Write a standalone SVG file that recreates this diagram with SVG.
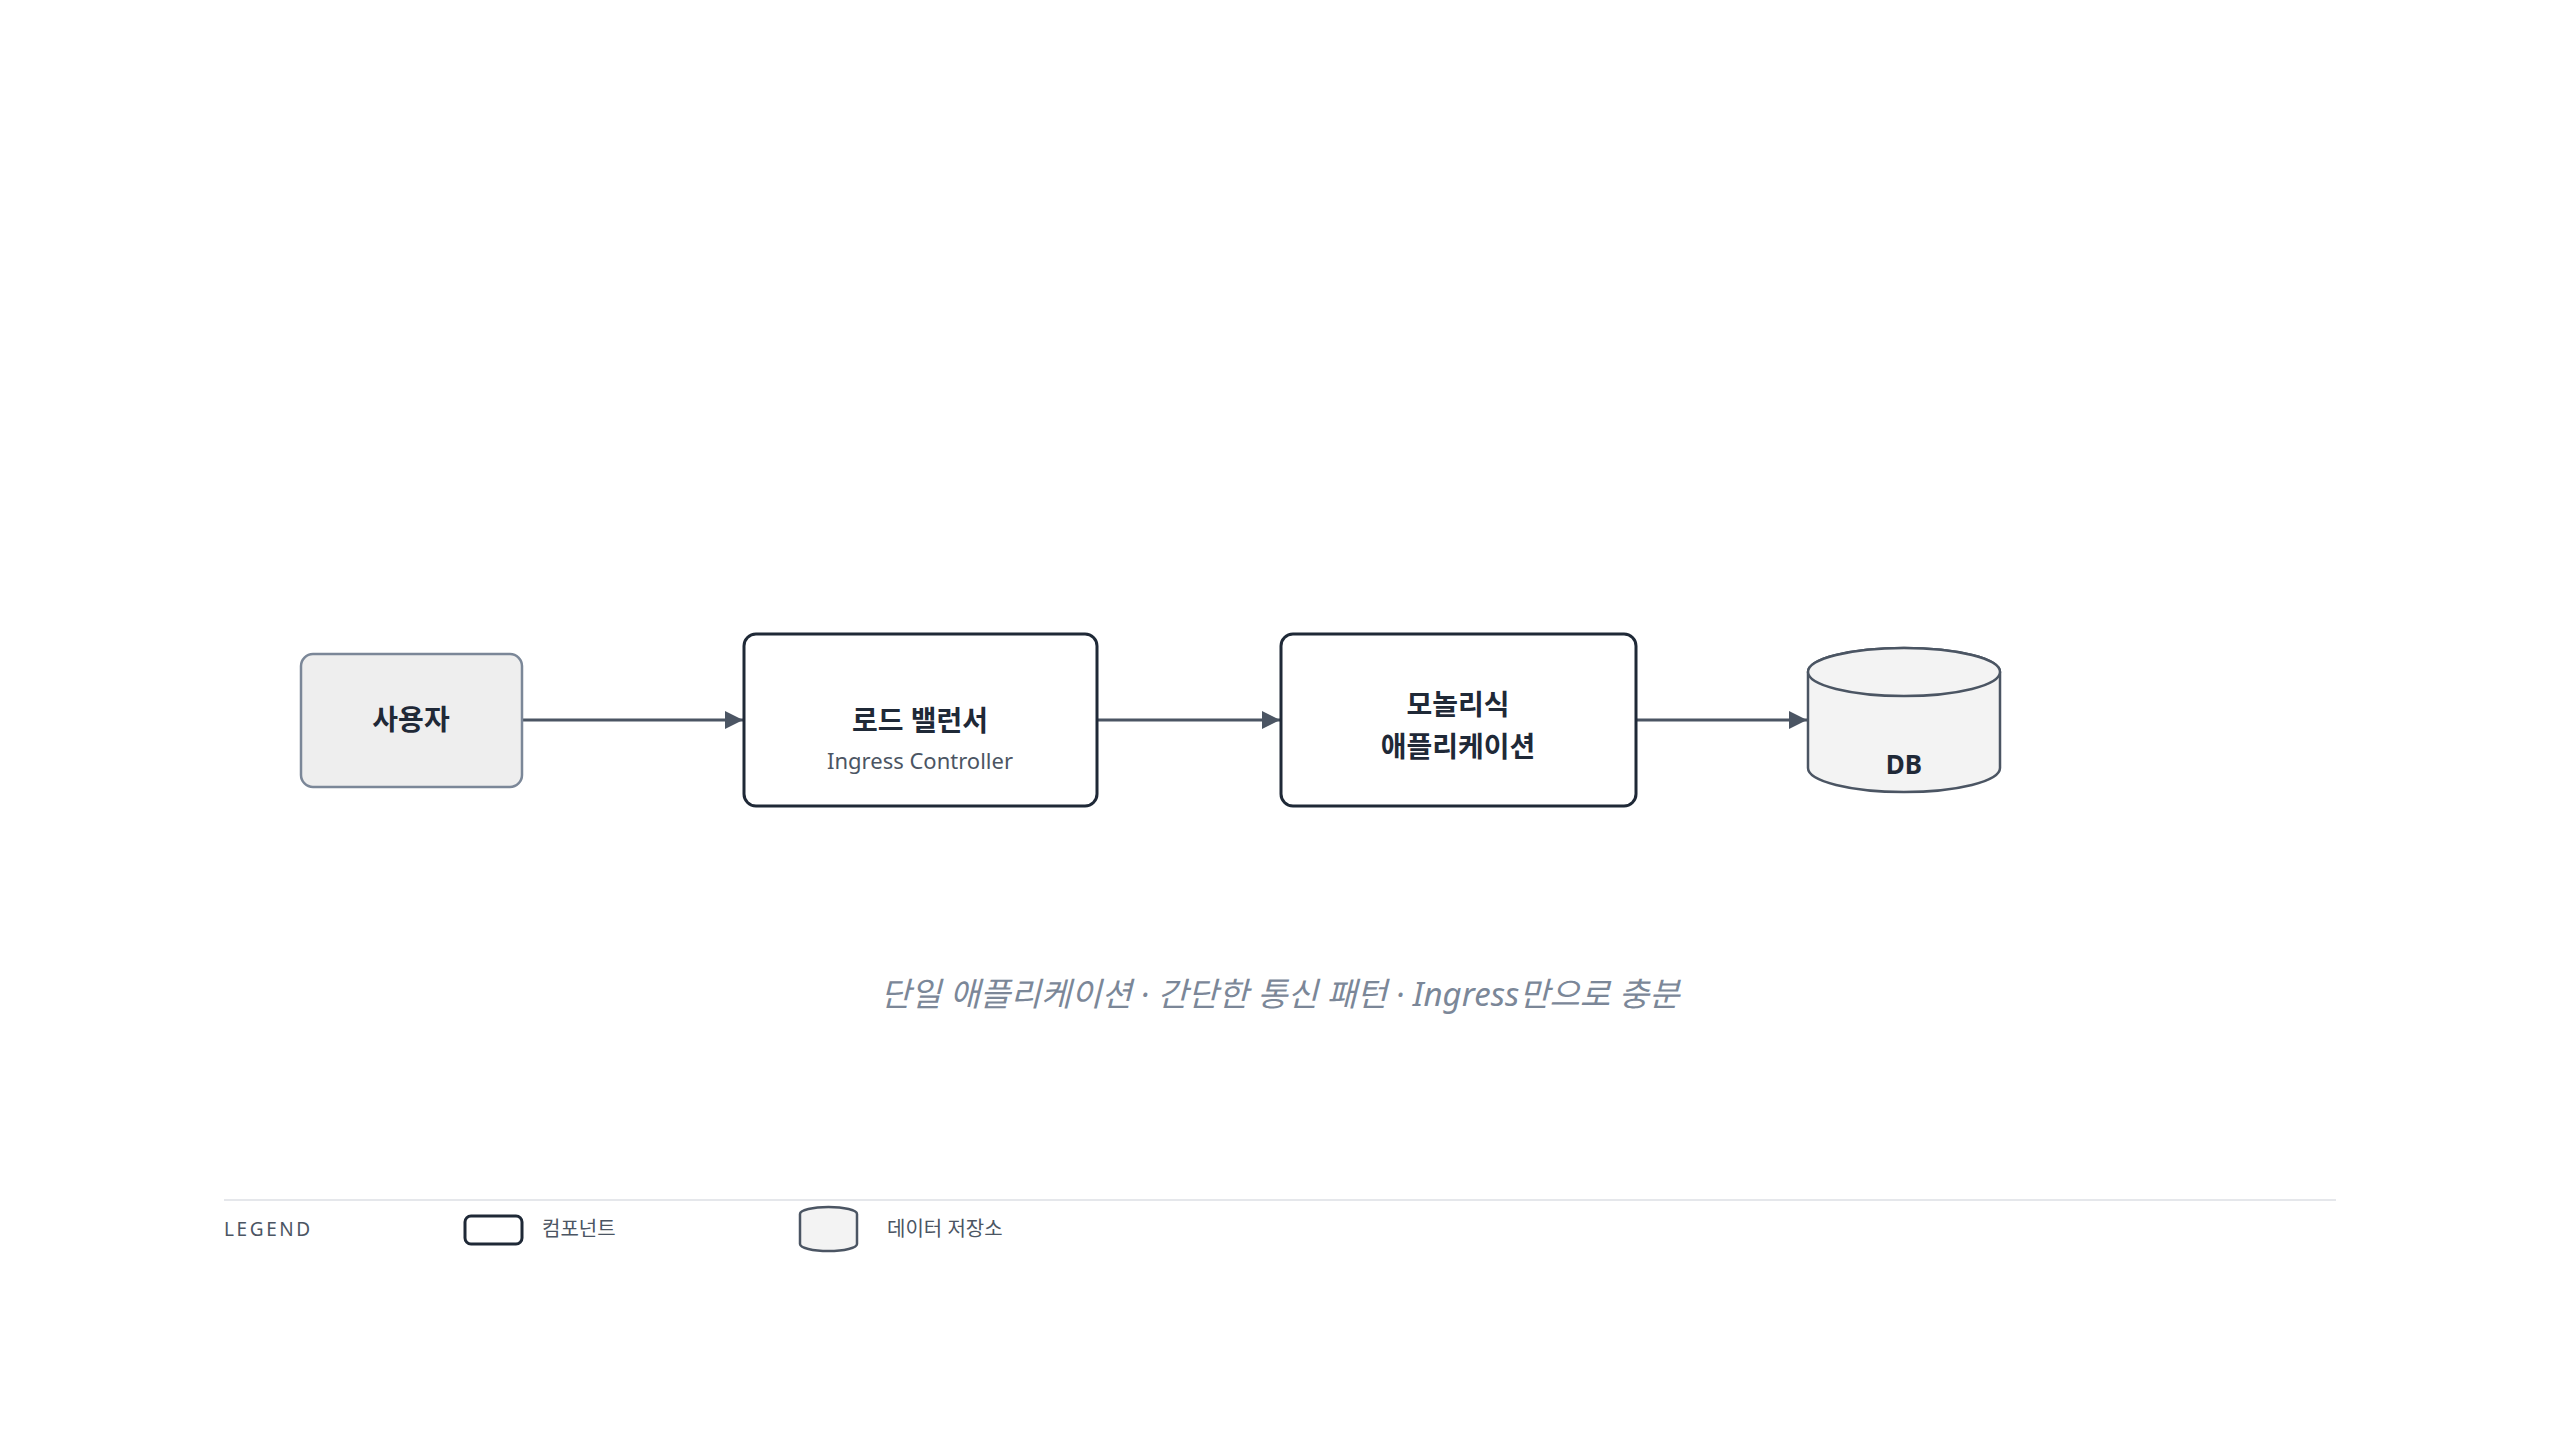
<svg xmlns="http://www.w3.org/2000/svg" width="2560" height="1440" viewBox="0 0 2560 1440">
<style>
text{font-family:"Noto Sans","Noto Sans CJK KR",sans-serif;}
.title{font-size:28px;font-weight:700;fill:#1f2937;text-anchor:middle;}
.sub{font-size:22px;fill:#4b5563;text-anchor:middle;}
.comp{fill:#ffffff;stroke:#1f2937;stroke-width:3;}
.actor{fill:#eeeeee;stroke:#7b8798;stroke-width:2.5;}
.store{fill:#f3f3f3;stroke:#4b5563;stroke-width:2.5;}
.edge{stroke:#4b5563;stroke-width:3;fill:none;marker-end:url(#arr);}
.caption{font-size:33px;font-style:italic;fill:#7b8798;text-anchor:middle;}
.leg{font-size:20px;fill:#4b5563;}
</style>
<defs>
<marker id="arr" viewBox="0 0 10 10" refX="10" refY="5" markerWidth="21" markerHeight="18" markerUnits="userSpaceOnUse" orient="auto">
<path d="M0,0 L10,5 L0,10 z" fill="#4b5563"/>
</marker>
</defs>
<rect width="2560" height="1440" fill="#ffffff"/>
<g id="connectors">
<line class="edge" x1="523" y1="720" x2="743" y2="720"/>
<line class="edge" x1="1098" y1="720" x2="1280" y2="720"/>
<line class="edge" x1="1636" y1="720" x2="1807" y2="720"/>
</g>
<g id="user">
<rect class="actor" x="301" y="654" width="221" height="133" rx="12"/>
<text class="title" x="411" y="730">사용자</text>
</g>
<g id="lb">
<rect class="comp" x="744" y="634" width="353" height="172" rx="12"/>
<text class="title" x="920" y="731">로드 밸런서</text>
<text class="sub" x="920" y="769">Ingress Controller</text>
</g>
<g id="app">
<rect class="comp" x="1281" y="634" width="355" height="172" rx="12"/>
<text class="title" x="1458" y="715">모놀리식</text>
<text class="title" x="1458" y="757">애플리케이션</text>
</g>
<g id="db">
<path class="store" d="M1808,672 L1808,768 A96,24 0 0 0 2000,768 L2000,672 A96,24 0 0 0 1808,672 Z"/>
<ellipse class="store" cx="1904" cy="672" rx="96" ry="24"/>
<text class="title" x="1904" y="774" style="font-size:26px">DB</text>
</g>
<text class="caption" x="1280" y="1006">단일 애플리케이션 · 간단한 통신 패턴 · Ingress만으로 충분</text>
<g id="legend">
<line x1="224" y1="1200" x2="2336" y2="1200" stroke="#e5e7eb" stroke-width="2"/>
<text class="leg" x="224" y="1236" style="font-size:19px;letter-spacing:2.6px">LEGEND</text>
<rect class="comp" x="465" y="1216" width="57" height="28" rx="6"/>
<text class="leg" x="542" y="1236">컴포넌트</text>
<path class="store" d="M800,1214 L800,1244 A28.5,7 0 0 0 857,1244 L857,1214 A28.5,7 0 0 0 800,1214 Z"/>
<text class="leg" x="887" y="1236">데이터 저장소</text>
</g>
</svg>
